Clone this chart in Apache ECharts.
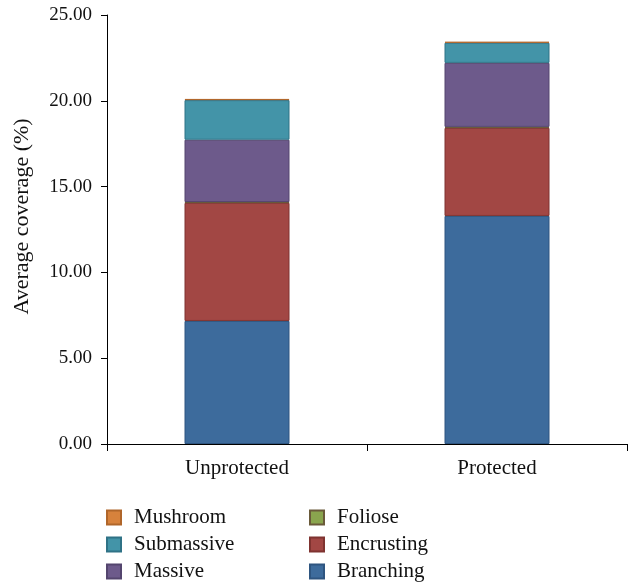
<!DOCTYPE html>
<html>
<head>
<meta charset="utf-8">
<style>
  html, body { margin: 0; padding: 0; background: #ffffff; }
  #chart { width: 636px; height: 586px; }
</style>
<script src="https://cdn.jsdelivr.net/npm/echarts@6/dist/echarts.min.js"></script>
</head>
<body>
<div id="chart"></div>
<script>
// Sites compared
const categories = ['Unprotected', 'Protected'];

// Average coverage (%) per growth form, stacked bottom to top
const branching  = [7.17, 13.29];
const encrusting = [6.88, 5.13];
const foliose    = [0.05, 0.06];
const massive    = [3.63, 3.73];
const submassive = [2.31, 1.17];
const mushroom   = [0.07, 0.06];

const yTicks = [0, 5, 10, 15, 20, 25];

const FONT = '"Liberation Serif", "DejaVu Serif", serif';

const seriesDefs = [
  { name: 'Branching',  data: branching,  color: '#3d6b9c', border: '#2e5580' },
  { name: 'Encrusting', data: encrusting, color: '#a24744', border: '#7f3330' },
  { name: 'Foliose',    data: foliose,    color: '#8aa54e', border: '#6a5a3a' },
  { name: 'Massive',    data: massive,    color: '#6d5a8b', border: '#54456e' },
  { name: 'Submassive', data: submassive, color: '#4394a8', border: '#2f7286' },
  { name: 'Mushroom',   data: mushroom,   color: '#d7823c', border: '#b0662a' }
];

const chart = echarts.init(document.getElementById('chart'), null, { renderer: 'canvas' });

const legendBase = {
  orient: 'vertical',
  top: 507,
  height: 100,
  padding: 0,
  itemWidth: 14,
  itemHeight: 14,
  itemGap: 6,
  icon: 'rect',
  textStyle: {
    fontFamily: FONT, fontSize: 21, color: '#111',
    lineHeight: 21, padding: [0, 0, 0, 8]
  }
};

chart.setOption({
  animation: false,
  backgroundColor: '#ffffff',
  grid: { left: 107, right: 9, top: 15, bottom: 142, containLabel: false },
  legend: [
    Object.assign({}, legendBase, { data: ['Mushroom', 'Submassive', 'Massive'], left: 106 }),
    Object.assign({}, legendBase, { data: ['Foliose', 'Encrusting', 'Branching'], left: 309 })
  ],
  xAxis: {
    type: 'category',
    data: categories,
    boundaryGap: true,
    axisLine: { lineStyle: { color: '#000', width: 1 } },
    axisTick: { show: true, length: 7, alignWithLabel: false, lineStyle: { color: '#000' } },
    axisLabel: { fontFamily: FONT, fontSize: 21, color: '#111', margin: 14 }
  },
  yAxis: {
    type: 'value',
    min: yTicks[0],
    max: yTicks[yTicks.length - 1],
    interval: 5,
    name: 'Average coverage (%)',
    nameLocation: 'middle',
    nameGap: 74,
    nameTextStyle: {
      fontFamily: FONT, fontSize: 22, color: '#111',
      padding: [0, 0, 0, 26]
    },
    axisLine: { show: true, lineStyle: { color: '#000', width: 1 } },
    axisTick: { show: true, length: 6, inside: false, lineStyle: { color: '#000' } },
    splitLine: { show: false },
    axisLabel: {
      fontFamily: FONT, fontSize: 19, color: '#111', margin: 15,
      formatter: v => v.toFixed(2)
    }
  },
  series: seriesDefs.map(s => ({
    name: s.name,
    type: 'bar',
    stack: 'coverage',
    data: s.data,
    barWidth: 105,
    itemStyle: { color: s.color, borderColor: s.border, borderWidth: 1 }
  }))
});
</script>
</body>
</html>
